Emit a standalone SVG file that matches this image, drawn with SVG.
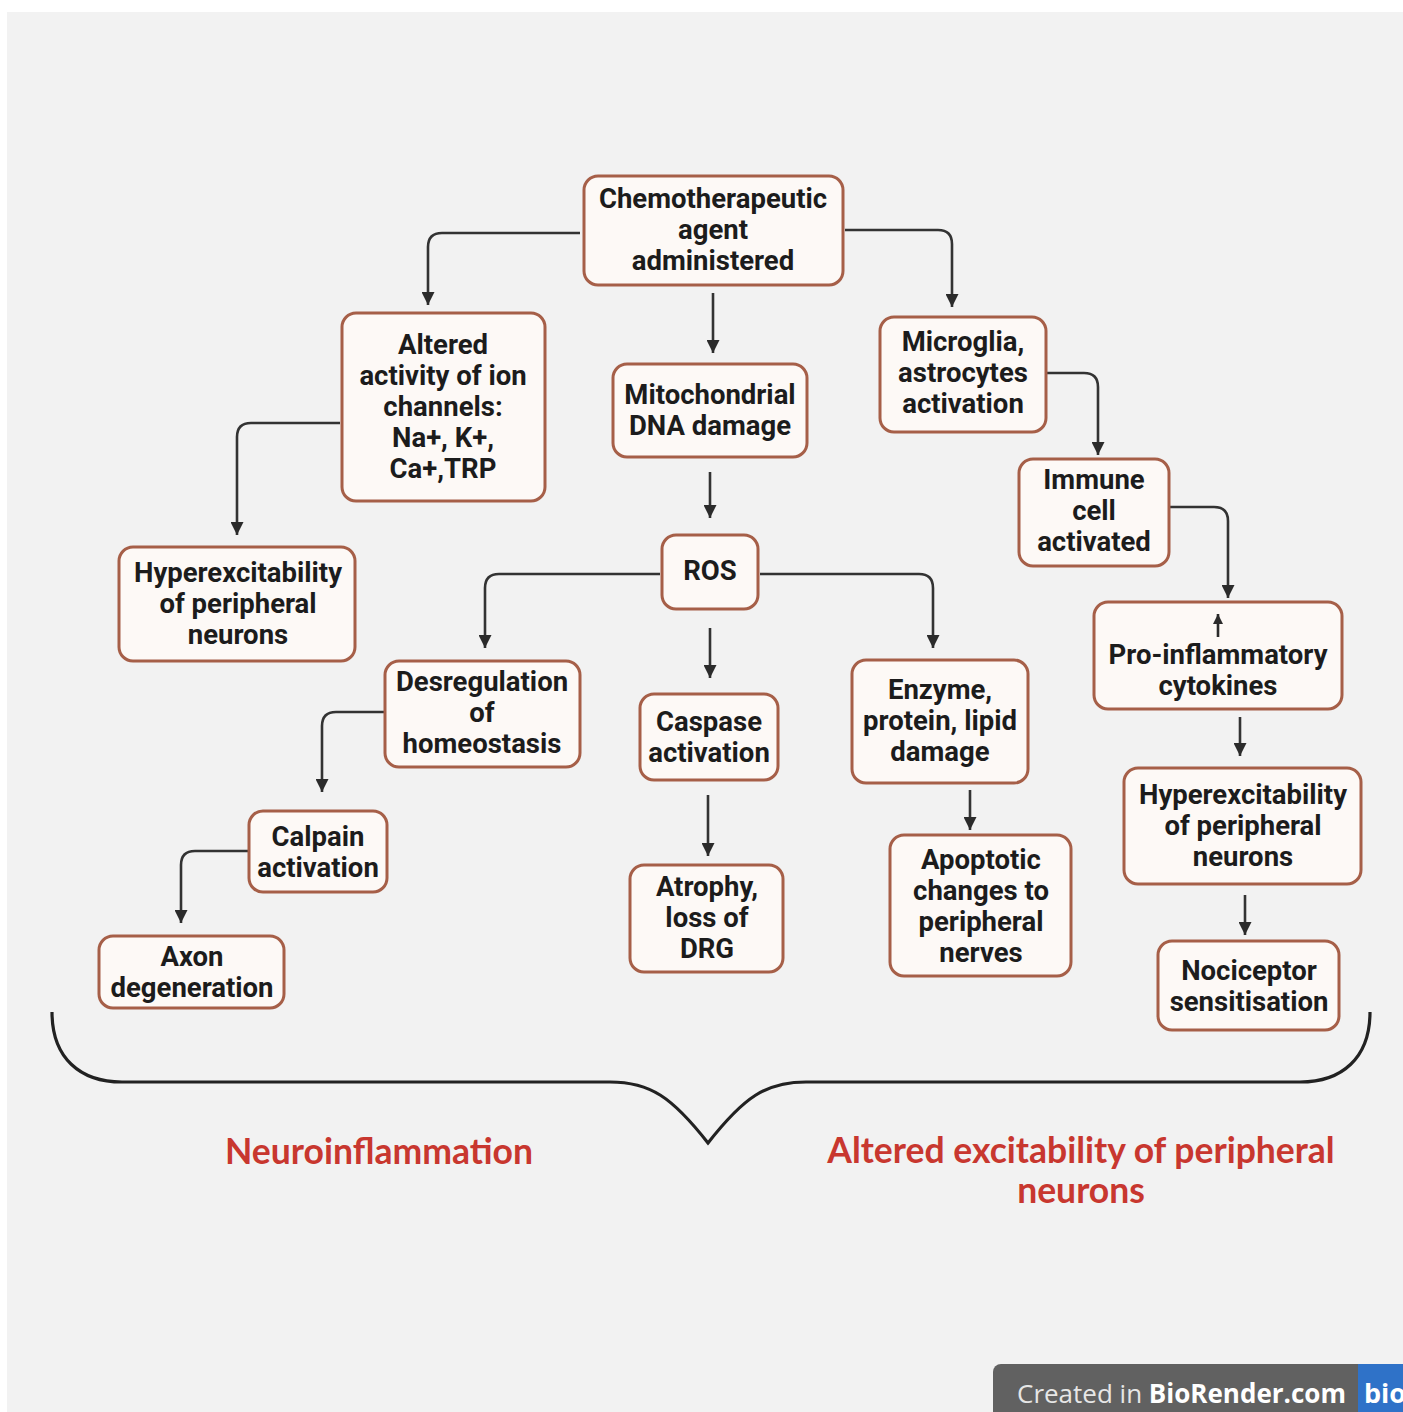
<svg xmlns="http://www.w3.org/2000/svg" width="1403" height="1412" viewBox="0 0 1403 1412">
<defs>
<marker id="ah" viewBox="0 0 12 12" refX="12" refY="6" markerWidth="13" markerHeight="13" markerUnits="userSpaceOnUse" orient="auto"><path d="M0,0 L12,6 L0,12 z" fill="#2b2b2b"/></marker>
<marker id="ahs" viewBox="0 0 12 12" refX="12" refY="6" markerWidth="10" markerHeight="10" markerUnits="userSpaceOnUse" orient="auto"><path d="M0,0 L12,6 L0,12 z" fill="#2b2b2b"/></marker>
<style>
.box{fill:#fdf9f6;stroke:#a65f48;stroke-width:3}
.t{font-family:Roboto,"Liberation Sans",sans-serif;font-size:27.5px;font-weight:bold;fill:#1c1c1c;text-anchor:middle}
.c{fill:none;stroke:#333;stroke-width:2.6;marker-end:url(#ah)}
.lab{font-family:Lato,"Open Sans",sans-serif;font-size:35.5px;font-weight:bold;fill:#c8372f;text-anchor:middle}
</style>
</defs>
<rect x="0" y="0" width="1403" height="1412" fill="#ffffff"/>
<rect x="7" y="12" width="1396" height="1400" fill="#f2f2f2"/>

<g id="connectors">
<path class="c" d="M580,233 H442 Q428,233 428,247 V305"/>
<path class="c" d="M845,230 H938 Q952,230 952,244 V307"/>
<path class="c" d="M713,293 V353"/>
<path class="c" d="M340,423 H251 Q237,423 237,437 V535"/>
<path class="c" d="M710,472 V518"/>
<path class="c" d="M1046,373 H1084 Q1098,373 1098,387 V455"/>
<path class="c" d="M1169,507 H1214 Q1228,507 1228,521 V598"/>
<path class="c" d="M660,574 H499 Q485,574 485,588 V648"/>
<path class="c" d="M710,628 V678"/>
<path class="c" d="M760,574 H919 Q933,574 933,588 V648"/>
<path class="c" d="M385,712 H336 Q322,712 322,726 V792"/>
<path class="c" d="M708,795 V856"/>
<path class="c" d="M970,790 V830"/>
<path class="c" d="M1240,717 V756"/>
<path class="c" d="M1245,895 V935"/>
<path class="c" d="M249,851 H195 Q181,851 181,865 V923"/>
</g>

<g id="chemo"><rect class="box" x="584" y="176" width="259" height="109" rx="14"/>
<text class="t" x="713" y="208">Chemotherapeutic</text><text class="t" x="713" y="239">agent</text><text class="t" x="713" y="270">administered</text></g>

<g id="altered"><rect class="box" x="342" y="313" width="203" height="188" rx="14"/>
<text class="t" x="443" y="354">Altered</text><text class="t" x="443" y="385">activity of ion</text><text class="t" x="443" y="416">channels:</text><text class="t" x="443" y="447">Na+, K+,</text><text class="t" x="443" y="478">Ca+,TRP</text></g>

<g id="mito"><rect class="box" x="613" y="364" width="194" height="93" rx="14"/>
<text class="t" x="710" y="404">Mitochondrial</text><text class="t" x="710" y="435">DNA damage</text></g>

<g id="microglia"><rect class="box" x="880" y="317" width="166" height="115" rx="14"/>
<text class="t" x="963" y="351">Microglia,</text><text class="t" x="963" y="382">astrocytes</text><text class="t" x="963" y="413">activation</text></g>

<g id="immune"><rect class="box" x="1019" y="459" width="150" height="107" rx="14"/>
<text class="t" x="1094" y="489">Immune</text><text class="t" x="1094" y="520">cell</text><text class="t" x="1094" y="551">activated</text></g>

<g id="hyper-left"><rect class="box" x="119" y="547" width="236" height="114" rx="14"/>
<text class="t" x="238" y="582">Hyperexcitability</text><text class="t" x="238" y="613">of peripheral</text><text class="t" x="238" y="644">neurons</text></g>

<g id="ros"><rect class="box" x="662" y="535" width="96" height="74" rx="14"/>
<text class="t" x="710" y="580">ROS</text></g>

<g id="proinflam"><rect class="box" x="1094" y="602" width="248" height="107" rx="14"/>
<path d="M1218,637 V614" fill="none" stroke="#2b2b2b" stroke-width="2.6" marker-end="url(#ahs)"/>
<text class="t" x="1218" y="664">Pro-inflammatory</text><text class="t" x="1218" y="695">cytokines</text></g>

<g id="desreg"><rect class="box" x="385" y="661" width="195" height="106" rx="14"/>
<text class="t" x="482" y="691">Desregulation</text><text class="t" x="482" y="722">of</text><text class="t" x="482" y="753">homeostasis</text></g>

<g id="caspase"><rect class="box" x="640" y="694" width="138" height="86" rx="14"/>
<text class="t" x="709" y="731">Caspase</text><text class="t" x="709" y="762">activation</text></g>

<g id="enzyme"><rect class="box" x="852" y="660" width="176" height="123" rx="14"/>
<text class="t" x="940" y="699">Enzyme,</text><text class="t" x="940" y="730">protein, lipid</text><text class="t" x="940" y="761">damage</text></g>

<g id="hyper-right"><rect class="box" x="1124" y="768" width="237" height="116" rx="14"/>
<text class="t" x="1243" y="804">Hyperexcitability</text><text class="t" x="1243" y="835">of peripheral</text><text class="t" x="1243" y="866">neurons</text></g>

<g id="calpain"><rect class="box" x="249" y="811" width="138" height="81" rx="14"/>
<text class="t" x="318" y="846">Calpain</text><text class="t" x="318" y="877">activation</text></g>

<g id="atrophy"><rect class="box" x="630" y="865" width="153" height="107" rx="14"/>
<text class="t" x="707" y="896">Atrophy,</text><text class="t" x="707" y="927">loss of</text><text class="t" x="707" y="958">DRG</text></g>

<g id="apoptotic"><rect class="box" x="890" y="835" width="181" height="141" rx="14"/>
<text class="t" x="981" y="869">Apoptotic</text><text class="t" x="981" y="900">changes to</text><text class="t" x="981" y="931">peripheral</text><text class="t" x="981" y="962">nerves</text></g>

<g id="axon"><rect class="box" x="99" y="936" width="185" height="72" rx="14"/>
<text class="t" x="192" y="966">Axon</text><text class="t" x="192" y="997">degeneration</text></g>

<g id="nociceptor"><rect class="box" x="1158" y="941" width="181" height="89" rx="14"/>
<text class="t" x="1249" y="980">Nociceptor</text><text class="t" x="1249" y="1011">sensitisation</text></g>

<g id="brace">
<path d="M52,1012 C52,1058 80,1082 122,1082 L610,1082 C650,1082 672,1097 708,1143 C744,1097 766,1082 806,1082 L1300,1082 C1342,1082 1370,1058 1370,1012" fill="none" stroke="#222" stroke-width="3.2"/>
</g>

<g id="labels">
<text class="lab" x="379" y="1164">Neuroinflammation</text>
<text class="lab" x="1081" y="1163">Altered excitability of peripheral</text>
<text class="lab" x="1081" y="1203">neurons</text>
</g>

<g id="badge">
<rect x="993" y="1364" width="430" height="60" rx="8" fill="#616161"/>
<path d="M1358,1364 H1403 V1412 H1358 Z" fill="#2f72c8"/>
<text x="1017" y="1403" font-family="'Open Sans','Liberation Sans',sans-serif" font-size="26" fill="#e6e6e6">Created in <tspan font-weight="bold" fill="#ffffff">BioRender.com</tspan></text>
<text x="1364" y="1403" font-family="'Open Sans','Liberation Sans',sans-serif" font-size="27" font-weight="bold" fill="#ffffff">bio</text>
</g>
</svg>
